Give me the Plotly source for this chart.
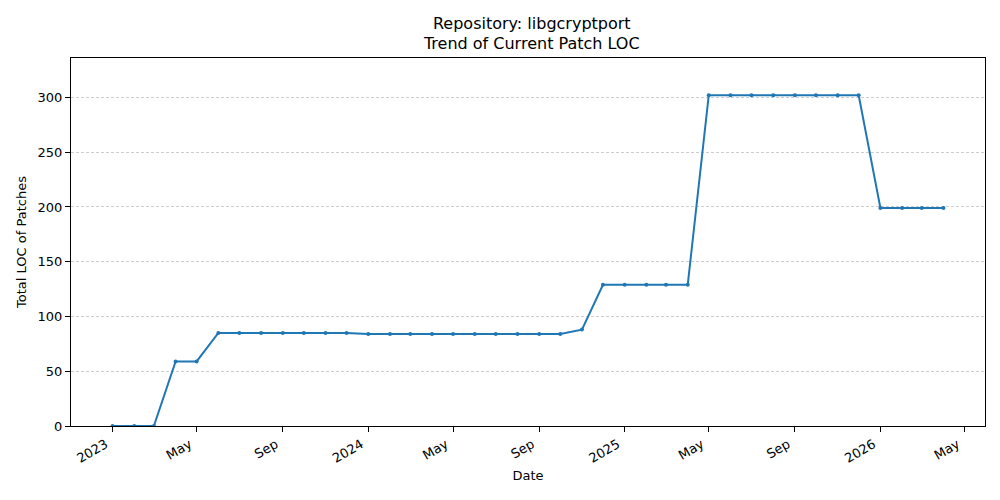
import pandas as pd
import plotly.graph_objects as go

# monthly snapshots, Jan 2023 .. Apr 2026
months = pd.date_range("2023-01-01", "2026-04-01", freq="MS")
loc_values = [
    0, 0, 0, 59, 59, 85, 85, 85, 85, 85, 85, 85,           # 2023
    84, 84, 84, 84, 84, 84, 84, 84, 84, 84, 88, 129,       # 2024
    129, 129, 129, 129, 302, 302, 302, 302, 302, 302, 302, 302,  # 2025
    199, 199, 199, 199,                                    # 2026
]
tick_dates = ["2023-01-01", "2023-05-01", "2023-09-01", "2024-01-01", "2024-05-01",
              "2024-09-01", "2025-01-01", "2025-05-01", "2025-09-01", "2026-01-01",
              "2026-05-01"]
tick_labels = ["2023", "May", "Sep", "2024", "May", "Sep", "2025", "May", "Sep",
               "2026", "May"]

span = months[-1] - months[0]
x_range = [months[0] - span * 0.05, months[-1] + span * 0.05]

font = "DejaVu Sans"

fig = go.Figure(go.Scatter(
    x=months, y=loc_values, mode="lines+markers",
    line=dict(color="#1f77b4", width=2),
    marker=dict(color="#1f77b4", size=4),
))

# the page body has an 8px margin, so the figure is 8px smaller each way
fig.update_layout(
    width=992, height=492,
    paper_bgcolor="white", plot_bgcolor="white",
    margin=dict(l=63, r=15, t=50, b=74, autoexpand=False),
    font=dict(family=font, size=13, color="black"),
    showlegend=False,
    title=dict(text="Repository: libgcryptport<br>Trend of Current Patch LOC",
               x=0.528, xanchor="center", y=0.958, yanchor="top",
               font=dict(size=16)),
)
fig.update_xaxes(
    range=x_range, tickvals=tick_dates, ticktext=tick_labels, tickangle=-30,
    ticklabelshift=-7,
    showgrid=False, showline=True, linecolor="black", linewidth=1, mirror=True,
    ticks="outside", ticklen=5, tickcolor="black",
    title=dict(text="Date", standoff=6, font=dict(size=13)), zeroline=False,
)
fig.update_yaxes(
    range=[0, 336], tickvals=[0, 50, 100, 150, 200, 250, 300],
    showgrid=True, gridcolor="#cccccc", gridwidth=0.6, griddash="3px,2px",
    showline=True, linecolor="black", linewidth=1, mirror=True,
    ticks="outside", ticklen=5, tickcolor="black",
    title=dict(text="Total LOC of Patches", standoff=8, font=dict(size=13)),
    zeroline=False,
)

fig.write_html("out.html")
